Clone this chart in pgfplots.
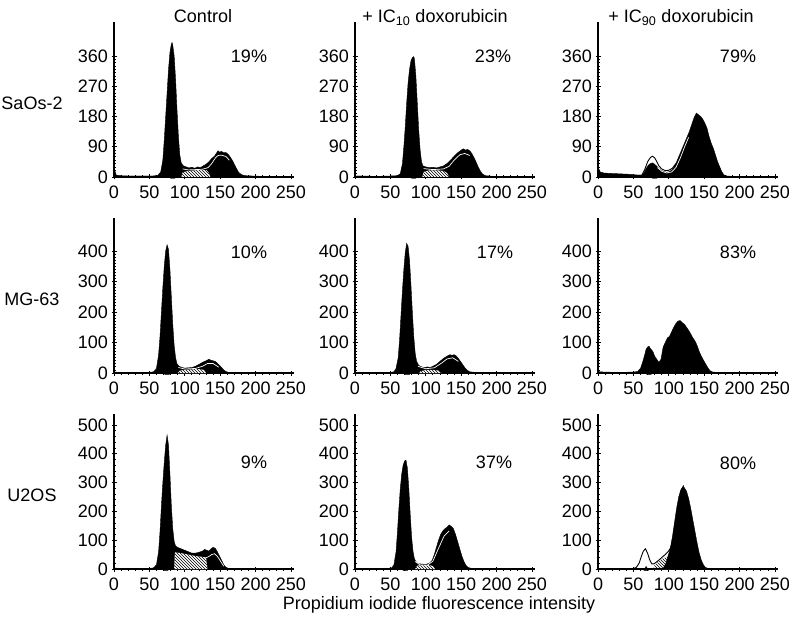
\documentclass[border=0pt]{standalone}
\usepackage{fontspec}
\setmainfont{Liberation Sans}
\usepackage{pgfplots}
\pgfplotsset{compat=1.18}
\usetikzlibrary{patterns}
\newcommand{\tl}{\fontsize{18}{20}\selectfont}
\pgfplotsset{
  hbase/.style={
    scale only axis, width=179.8pt, height=155pt,
    xmin=0, xmax=254, ymin=0,
    axis lines*=left,
    axis line style={line width=1.5pt},
    xtick={0,50,...,250}, minor x tick num=4,
    tick align=center, major tick length=5pt, minor tick length=3pt,
    tick style={line width=0.8pt, black},
    every tick label/.append style={font=\tl},
    xticklabel style={yshift=-3pt},
    /pgf/number format/assume math mode=true,
    clip=false, anchor=south west,
  },
  r1/.style={ymax=461, ytick={0,90,...,360}, minor y tick num=8},
  r2/.style={ymax=508, ytick={0,100,...,400}, minor y tick num=9},
  r3/.style={ymax=538, ytick={0,100,...,500}, minor y tick num=4},
  blk/.style={fill=black, draw=black, line width=0.4pt},
  hwhite/.style={fill=white, draw=none},
  hatch/.style={pattern=north west lines, draw=none},
  fitl/.style={white, line width=0.7pt},
  outl/.style={black, line width=0.9pt},
  tri/.style={only marks, mark=triangle*, mark size=2.6pt, black},
}
\begin{document}
\begin{tikzpicture}
\path[use as bounding box] (0pt,0pt) rectangle (789pt,619pt);

% ---------- Row 1: SaOs-2 ----------
\begin{axis}[hbase, r1, at={(114pt,442pt)}]
\addplot[blk] coordinates {(0,45) (1,20) (3,6) (8,4) (20,3) (40,3) (55,3) (62,5) (66,15) (69,50) (71,110) (73,180) (75,250) (77,320) (79,370) (81,395) (82,400) (83,392) (85,360) (87,290) (89,200) (91,120) (93,65) (95,42) (98,33) (102,30) (106,27) (110,29) (114,26) (118,30) (122,28) (126,33) (130,38) (134,45) (138,55) (142,62) (145,72) (147,78) (149,74) (152,76) (155,72) (158,73) (161,68) (164,60) (167,50) (170,38) (173,25) (176,14) (180,7) (185,4) (195,3) (210,2) (250,2)} \closedcycle;
\addplot[hwhite] coordinates {(95,0) (97,14) (105,18) (115,20) (125,21) (131,20) (134,12) (136,0)} \closedcycle;
\addplot[hatch] coordinates {(95,0) (97,14) (105,18) (115,20) (125,21) (131,20) (134,12) (136,0)} \closedcycle;
\addplot[fitl] coordinates {(97,24) (105,21) (115,22) (125,23) (133,28) (138,40) (143,56) (147,64) (152,65) (158,61) (163,50)};
\addplot[tri] coordinates {(83,0)};
\end{axis}

\begin{axis}[hbase, r1, at={(355pt,442pt)}]
\addplot[blk] coordinates {(0,3) (10,3) (30,2) (50,3) (60,4) (64,10) (67,40) (69,90) (71,150) (73,220) (75,280) (77,320) (79,345) (81,355) (83,358) (84,350) (86,300) (88,220) (90,140) (92,80) (94,45) (96,33) (100,30) (105,28) (110,29) (115,27) (120,30) (125,33) (130,40) (135,50) (140,62) (145,72) (150,80) (153,84) (156,80) (159,82) (162,78) (165,70) (168,58) (171,45) (174,30) (177,18) (180,9) (184,4) (195,2) (250,2)} \closedcycle;
\addplot[hwhite] coordinates {(95,0) (97,15) (105,20) (115,20) (125,18) (130,12) (133,0)} \closedcycle;
\addplot[hatch] coordinates {(95,0) (97,15) (105,20) (115,20) (125,18) (130,12) (133,0)} \closedcycle;
\addplot[fitl] coordinates {(97,25) (110,22) (125,24) (133,32) (140,50) (148,66) (155,70) (162,64)};
\addplot[tri] coordinates {(83,0)};
\end{axis}

\begin{axis}[hbase, r1, at={(598pt,442pt)}]
\addplot[blk] coordinates {(0,60) (1,25) (3,15) (8,12) (15,11) (25,10) (35,9) (45,8) (55,6) (62,6) (65,12) (68,25) (71,35) (74,40) (77,42) (80,38) (83,32) (86,25) (89,20) (93,16) (97,14) (101,16) (105,22) (109,35) (113,55) (117,75) (121,95) (125,115) (129,135) (133,160) (136,178) (139,190) (142,185) (145,180) (148,172) (151,160) (154,145) (157,120) (160,100) (163,85) (166,65) (169,45) (172,30) (175,15) (178,6) (182,3) (190,2) (250,1)} \closedcycle;
\addplot[outl] coordinates {(62,6) (66,22) (70,45) (74,58) (77,62) (80,57) (83,46) (86,33) (90,24) (95,19) (100,20) (105,26) (110,40)};
\addplot[fitl] coordinates {(84,28) (90,17) (97,12) (104,15) (110,28) (116,55) (122,88) (128,118)};
\addplot[tri] coordinates {(80,0)};
\end{axis}

% ---------- Row 2: MG-63 ----------
\begin{axis}[hbase, r2, at={(114pt,246pt)}]
\addplot[blk] coordinates {(0,3) (10,2) (30,2) (50,2) (56,4) (60,15) (63,60) (65,120) (67,200) (69,280) (71,350) (73,400) (75,420) (77,405) (79,340) (81,250) (83,160) (85,90) (87,50) (89,30) (92,22) (96,18) (100,16) (105,17) (110,18) (115,22) (120,28) (125,35) (130,40) (134,45) (137,42) (140,40) (143,38) (146,32) (149,25) (152,18) (155,10) (158,5) (162,2) (170,2) (250,1)} \closedcycle;
\addplot[hwhite] coordinates {(90,0) (93,8) (100,10) (110,12) (120,13) (127,10) (130,0)} \closedcycle;
\addplot[hatch] coordinates {(90,0) (93,8) (100,10) (110,12) (120,13) (127,10) (130,0)} \closedcycle;
\addplot[fitl] coordinates {(91,18) (100,13) (115,15) (125,22) (132,31) (140,31) (148,19)};
\addplot[tri] coordinates {(75,0)};
\end{axis}

\begin{axis}[hbase, r2, at={(355pt,246pt)}]
\addplot[blk] coordinates {(0,2) (20,2) (50,2) (55,4) (58,15) (61,50) (63,110) (65,190) (67,270) (69,340) (71,395) (73,425) (75,415) (77,370) (79,290) (81,200) (83,120) (85,65) (87,38) (90,25) (94,20) (98,18) (102,20) (106,18) (110,22) (115,28) (120,38) (125,48) (130,55) (134,60) (137,58) (140,60) (143,56) (146,48) (149,38) (152,28) (155,18) (158,10) (162,4) (170,2) (250,1)} \closedcycle;
\addplot[hwhite] coordinates {(90,0) (93,6) (100,10) (110,10) (118,8) (122,0)} \closedcycle;
\addplot[hatch] coordinates {(90,0) (93,6) (100,10) (110,10) (118,8) (122,0)} \closedcycle;
\addplot[fitl] coordinates {(89,22) (100,14) (112,17) (122,32) (130,46) (138,50) (146,38)};
\addplot[tri] coordinates {(74,0)};
\end{axis}

\begin{axis}[hbase, r2, at={(598pt,246pt)}]
\addplot[blk] coordinates {(0,8) (2,4) (10,3) (30,2) (50,3) (56,5) (60,15) (63,35) (66,60) (68,78) (70,85) (72,88) (74,80) (76,75) (78,68) (80,55) (83,45) (86,35) (89,45) (92,85) (95,100) (98,115) (101,120) (104,135) (107,150) (110,162) (113,170) (116,172) (119,165) (122,160) (125,150) (128,140) (131,128) (134,115) (137,105) (140,90) (143,70) (146,55) (149,42) (152,30) (155,18) (158,8) (162,3) (170,2) (250,1)} \closedcycle;
\addplot[tri] coordinates {(72,0)};
\end{axis}

% ---------- Row 3: U2OS ----------
\begin{axis}[hbase, r3, at={(114pt,50pt)}]
\addplot[blk] coordinates {(0,3) (20,2) (50,2) (56,4) (60,15) (63,60) (65,130) (67,220) (69,300) (71,370) (73,430) (75,465) (77,430) (79,330) (81,220) (83,140) (85,95) (87,80) (90,75) (95,70) (100,65) (105,60) (110,55) (115,55) (120,58) (125,62) (128,68) (131,65) (134,62) (137,70) (140,75) (143,72) (146,60) (149,45) (152,30) (155,15) (158,6) (162,2) (170,2) (250,1)} \closedcycle;
\addplot[hwhite] coordinates {(85,0) (86,58) (95,55) (105,50) (115,45) (125,42) (130,40) (132,0)} \closedcycle;
\addplot[hatch] coordinates {(85,0) (86,58) (95,55) (105,50) (115,45) (125,42) (130,40) (132,0)} \closedcycle;
\addplot[fitl] coordinates {(129,38) (133,42) (138,50) (142,53) (146,44) (150,29) (155,10)};
\addplot[tri] coordinates {(73,0)};
\end{axis}

\begin{axis}[hbase, r3, at={(355pt,50pt)}]
\addplot[blk] coordinates {(0,2) (20,2) (45,2) (52,4) (55,15) (58,60) (60,130) (62,210) (64,280) (66,330) (68,360) (70,375) (72,378) (74,350) (76,280) (78,190) (80,110) (82,60) (84,35) (87,22) (90,18) (95,17) (100,16) (105,20) (109,30) (112,50) (115,75) (118,100) (121,120) (124,132) (127,140) (130,145) (133,153) (136,148) (139,140) (142,120) (145,95) (148,70) (151,45) (154,25) (157,12) (160,5) (165,2) (250,1)} \closedcycle;
\addplot[hwhite] coordinates {(85,0) (88,12) (95,14) (105,14) (110,10) (113,0)} \closedcycle;
\addplot[hatch] coordinates {(85,0) (88,12) (95,14) (105,14) (110,10) (113,0)} \closedcycle;
\addplot[fitl] coordinates {(85,26) (92,14) (102,13) (110,27) (118,72) (126,115) (133,132)};
\addplot[tri] coordinates {(71,0)};
\end{axis}

\begin{axis}[hbase, r3, at={(598pt,50pt)}]
\addplot[hwhite] coordinates {(78,0) (80,15) (85,25) (90,35) (95,40) (100,45) (103,0)} \closedcycle;
\addplot[hatch] coordinates {(78,0) (80,15) (85,25) (90,35) (95,40) (100,45) (103,0)} \closedcycle;
\addplot[blk] coordinates {(0,2) (40,2) (50,2) (92,2) (96,20) (99,45) (102,70) (105,110) (108,160) (111,210) (114,250) (117,275) (120,286) (122,282) (125,270) (128,245) (131,210) (134,170) (137,130) (140,90) (143,55) (146,30) (149,14) (152,5) (156,2) (170,2) (250,1)} \closedcycle;
\addplot[outl] coordinates {(50,2) (54,5) (58,20) (61,42) (64,62) (67,70) (70,55) (73,32) (76,18) (79,18) (83,25) (87,33) (91,42) (95,50) (99,60) (103,75) (106,105) (109,150) (112,200) (115,245) (118,275) (121,290)};
\addplot[tri] coordinates {(68,0)};
\end{axis}

% ---------- Texts ----------
\begin{scope}[every node/.style={font=\tl, inner sep=0pt}]
\node[anchor=base] at (203pt,596pt) {Control};
\node[anchor=base] at (435pt,596pt) {+ IC\textsubscript{10} doxorubicin};
\node[anchor=base] at (681pt,596pt) {+ IC\textsubscript{90} doxorubicin};
\node at (32pt,516pt) {SaOs-2};
\node at (32pt,320pt) {MG-63};
\node at (32pt,124pt) {U2OS};
\node at (249pt,563pt) {19\%};
\node at (493pt,563pt) {23\%};
\node at (738pt,563pt) {79\%};
\node at (249pt,367pt) {10\%};
\node at (495pt,367pt) {17\%};
\node at (738pt,367pt) {83\%};
\node at (254pt,157pt) {9\%};
\node at (494pt,157pt) {37\%};
\node at (738pt,156pt) {80\%};
\node at (439pt,14pt) {Propidium iodide fluorescence intensity};
\end{scope}
\end{tikzpicture}
\end{document}
